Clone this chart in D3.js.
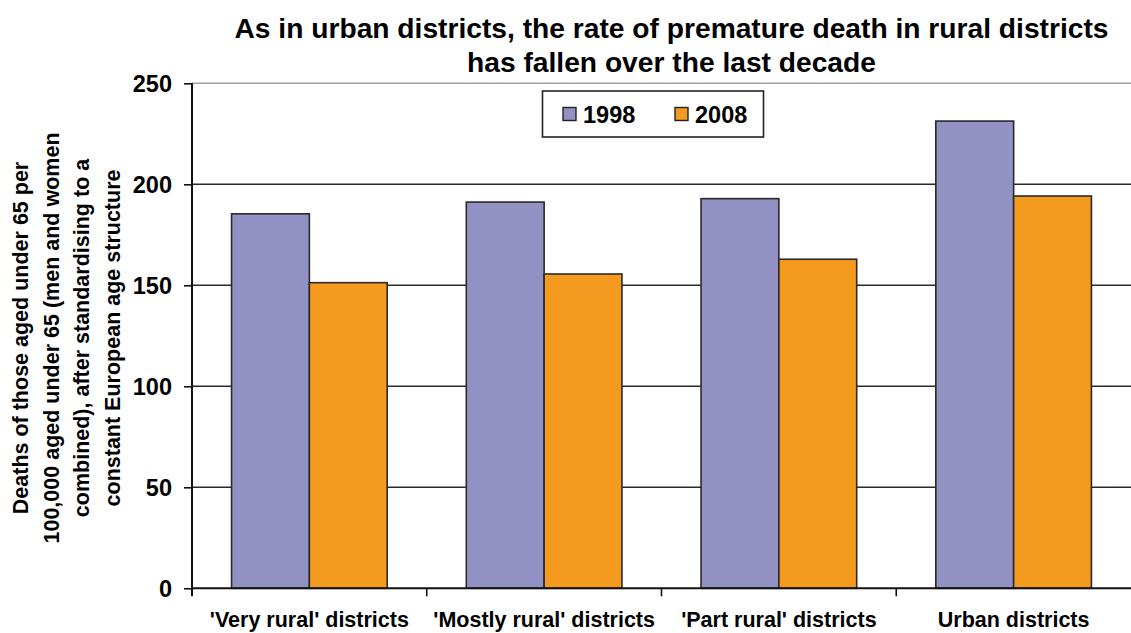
<!DOCTYPE html>
<html><head><meta charset="utf-8">
<script src="https://cdn.jsdelivr.net/npm/d3@7"></script>
<style>body{margin:0;background:#fff;font-family:"Liberation Sans",Arial,sans-serif;}</style>
</head><body><svg id="c" width="1131" height="633"></svg>
<script>
const categories = ["'Very rural' districts", "'Mostly rural' districts", "'Part rural' districts", "Urban districts"];
const seriesNames = ["1998", "2008"];
const values1998 = [185.4, 191.2, 192.9, 231.3];
const values2008 = [151.3, 155.6, 162.9, 194.2];
const yTicks = [0, 50, 100, 150, 200, 250];
const colors = ["#9191C4", "#F39A1F"];
const titleLines = ["As in urban districts, the rate of premature death in rural districts", "has fallen over the last decade"];
const yLabelLines = ["Deaths of those aged under 65 per", "100,000 aged under 65 (men and women", "combined), after standardising to a", "constant European age structure"];

const svg = d3.select("#c");
const L = 192, R = 1131, T = 83.3, B = 588.3;
const y = d3.scaleLinear().domain([0, 250]).range([B, T]);
const x0 = d3.scaleBand().domain(categories).range([L, R]).paddingInner(0.337).paddingOuter(0.1685);
const x1 = d3.scaleBand().domain(seriesNames).range([0, x0.bandwidth()]);
const series = [values1998, values2008];

// gridlines
svg.append("g").selectAll("line").data(yTicks.filter(d => d > 0)).join("line")
  .attr("x1", L).attr("x2", R).attr("y1", d => y(d)).attr("y2", d => y(d))
  .attr("stroke", d => d === 250 ? "#a0a0a0" : "#2a2a2a").attr("stroke-width", 1.4);

// bars
const g = svg.append("g");
categories.forEach((c, i) => {
  seriesNames.forEach((s, j) => {
    g.append("rect")
      .attr("x", x0(c) + x1(s)).attr("y", y(series[j][i]))
      .attr("width", x1.bandwidth()).attr("height", B - y(series[j][i]))
      .attr("fill", colors[j]).attr("stroke", "#2a2a2a").attr("stroke-width", 1.6);
  });
});

// y axis
const ya = svg.append("g").attr("transform", `translate(${L},0)`)
  .call(d3.axisLeft(y).tickValues(yTicks).tickSize(8).tickPadding(12));
ya.select(".domain").remove();
ya.append("line").attr("x1", 0).attr("x2", 0).attr("y1", T).attr("y2", B + 8).attr("stroke", "#111").attr("stroke-width", 2);
ya.selectAll(".tick line").attr("stroke", "#111").attr("stroke-width", 1.6);
ya.selectAll(".tick text").attr("font-size", 23.5).attr("font-weight", "bold").attr("fill", "#000")
  .attr("font-family", "Liberation Sans, Arial, sans-serif").attr("dy", "0.36em");

// x axis
const xa = svg.append("g");
xa.append("line").attr("x1", L).attr("x2", R).attr("y1", B).attr("y2", B).attr("stroke", "#111").attr("stroke-width", 2);
const bounds = categories.map(c => x0(c) - x0.step() * x0.paddingInner() / 2).slice(1);
xa.selectAll(".xt").data(bounds).join("line").attr("class", "xt")
  .attr("x1", d => d).attr("x2", d => d).attr("y1", B).attr("y2", B + 8).attr("stroke", "#111").attr("stroke-width", 1.6);
xa.selectAll(".xl").data(categories).join("text").attr("class", "xl")
  .attr("x", d => x0(d) + x0.bandwidth() / 2).attr("y", 627)
  .attr("text-anchor", "middle").attr("font-size", 21.5).attr("font-weight", "bold").text(d => d);

// title
svg.selectAll(".tt").data(titleLines).join("text").attr("class", "tt")
  .attr("x", 671.5).attr("y", (d, i) => 38.3 + i * 33.3)
  .attr("text-anchor", "middle").attr("font-size", 28.2).attr("font-weight", "bold").text(d => d);

// y label
const yl = svg.append("text").attr("transform", "translate(0,338) rotate(-90)")
  .attr("text-anchor", "middle").attr("font-size", 21.5).attr("font-weight", "bold");
yLabelLines.forEach((t, i) => yl.append("tspan").attr("x", 0).attr("y", 28 + i * 30.5).text(t));

// legend
const lg = svg.append("g");
lg.append("rect").attr("x", 542.5).attr("y", 91).attr("width", 221).attr("height", 46)
  .attr("fill", "#fff").attr("stroke", "#222").attr("stroke-width", 1.6);
const lx = [563, 675];
seriesNames.forEach((s, j) => {
  lg.append("rect").attr("x", lx[j]).attr("y", 107.5).attr("width", 13).attr("height", 13)
    .attr("fill", colors[j]).attr("stroke", "#222").attr("stroke-width", 1.4);
  lg.append("text").attr("x", lx[j] + 20).attr("y", 122.5).attr("font-size", 23.5).attr("font-weight", "bold").text(s);
});
</script></body></html>
